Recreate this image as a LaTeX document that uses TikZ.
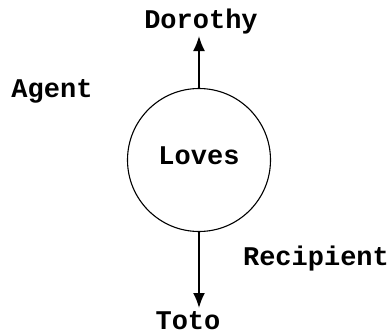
\documentclass[tikz,border=0pt]{standalone}
\usepackage{fontspec}
\setmainfont{Liberation Mono}
\usetikzlibrary{arrows.meta}
\begin{document}
\begin{tikzpicture}[x=1pt,y=-1pt,
  lbl/.style={font=\fontsize{27}{32}\selectfont\bfseries, inner sep=0pt},
  conn/.style={line width=1.8pt, -{Latex[length=15pt,width=12pt]}},
  ring/.style={circle, draw, line width=1.1pt, minimum size=143pt, inner sep=0pt}]
\useasboundingbox (0,0) rectangle (391,335);
\node[ring] (loves) at (199,160) {};
\node[lbl, anchor=base] (lovestext) at (199,164) {Loves};
\node[lbl, anchor=base] (dorothy) at (201,28) {Dorothy};
\node[lbl, anchor=base] (agent) at (52,97) {Agent};
\node[lbl, anchor=base] (recipient) at (316,265) {Recipient};
\node[lbl, anchor=base] (toto) at (188,329) {Toto};
\coordinate (uptip) at (198,36);
\coordinate (downtip) at (197,308);
\draw[conn] (loves.north) -- (loves.north |- uptip);
\draw[conn] (loves.south) -- (loves.south |- downtip);
\end{tikzpicture}
\end{document}
